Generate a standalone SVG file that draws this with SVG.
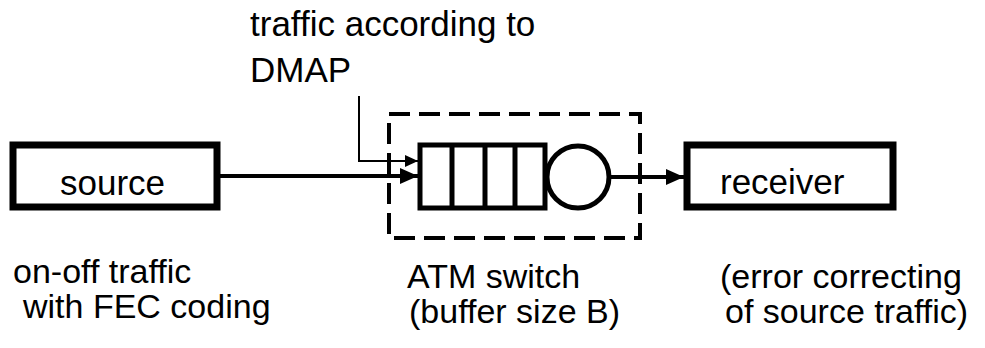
<svg xmlns="http://www.w3.org/2000/svg" width="985" height="348" viewBox="0 0 985 348">
<style>
text { font-family: "Liberation Sans", Arial, sans-serif; font-size: 35px; fill: #000; }
.lbl { font-size: 34px; }
.box { fill: #fff; stroke: #000; stroke-width: 7; }
.q { fill: #fff; stroke: #000; stroke-width: 5; }
.dash { fill: none; stroke: #000; stroke-width: 4; stroke-dasharray: 21 9; }
.thick { fill: none; stroke: #000; stroke-width: 4; }
.thin { fill: none; stroke: #000; stroke-width: 2; }
</style>
<defs>
<marker id="ah" viewBox="0 0 18 16" refX="18" refY="8" markerWidth="18" markerHeight="16" markerUnits="userSpaceOnUse" orient="auto">
<path d="M0,0 L18,8 L0,16 Z" fill="#000"/>
</marker>
<marker id="ahs" viewBox="0 0 13 12" refX="13" refY="6" markerWidth="13" markerHeight="12" markerUnits="userSpaceOnUse" orient="auto">
<path d="M0,0 L13,6 L0,12 Z" fill="#000"/>
</marker>
</defs>
<rect width="985" height="348" fill="#fff"/>
<g id="switch">
<rect class="dash" x="389" y="114" width="251" height="124"/>
<rect class="q" x="420" y="145" width="125" height="63"/>
<line class="q" x1="452" y1="145" x2="452" y2="208"/>
<line class="q" x1="485" y1="145" x2="485" y2="208"/>
<line class="q" x1="515" y1="145" x2="515" y2="208"/>
<circle class="q" cx="578" cy="177" r="31"/>
<text class="lbl"><tspan x="407" y="288">ATM switch</tspan><tspan x="409" y="323">(buffer size B)</tspan></text>
</g>
<g id="source">
<rect class="box" x="13" y="145" width="204" height="62"/>
<text x="60" y="195">source</text>
<text class="lbl"><tspan x="13" y="283">on-off traffic</tspan><tspan x="23" y="318">with FEC coding</tspan></text>
</g>
<g id="receiver">
<rect class="box" x="687" y="145" width="206" height="62"/>
<text x="720" y="194">receiver</text>
<text class="lbl"><tspan x="720" y="288">(error correcting</tspan><tspan x="725" y="323">of source traffic)</tspan></text>
</g>
<g id="dmap">
<text><tspan x="250" y="36">traffic according to</tspan><tspan x="250" y="82">DMAP</tspan></text>
</g>
<g id="connectors">
<line class="thick" x1="217" y1="176" x2="418" y2="176" marker-end="url(#ah)"/>
<polyline class="thin" points="359,96 359,161 418,161" marker-end="url(#ahs)"/>
<line class="thick" x1="609" y1="177" x2="684" y2="177" marker-end="url(#ah)"/>
</g>
</svg>
